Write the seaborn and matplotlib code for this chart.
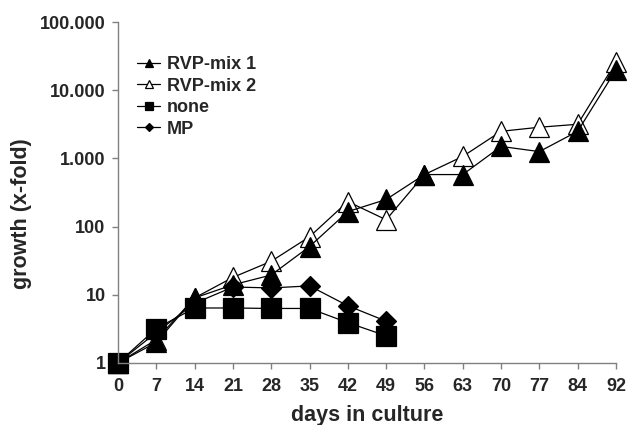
import matplotlib
matplotlib.use("Agg")
import matplotlib.pyplot as plt
import seaborn as sns

# days in culture (categorical axis, equally spaced)
days = ["0", "7", "14", "21", "28", "35", "42", "49", "56", "63", "70", "77", "84", "92"]
days_short = days[:8]

rvp_mix_1 = [1, 2.0, 9, 14, 19.5, 51, 166, 250, 580, 580, 1500, 1260, 2500, 20000]
rvp_mix_2 = [1, 2.2, 9, 18, 31, 71, 233, 126, 580, 1070, 2500, 2870, 3170, 26000]
none = [1, 3.2, 6.4, 6.4, 6.3, 6.3, 3.9, 2.5]
mp = [1, 2.8, 7.5, 13, 12.6, 13.5, 6.9, 4.1]

y_ticks = [1, 10, 100, 1000, 10000, 100000]
y_labels = ["1", "10", "100", "1.000", "10.000", "100.000"]


def main():
    sns.set_theme(style="white")
    plt.rcParams["font.family"] = ["Liberation Sans", "DejaVu Sans"]
    plt.rcParams["font.weight"] = "bold"

    fig = plt.figure(figsize=(6.29, 4.25), dpi=100)
    ax = fig.add_axes([0.1876, 0.146, 0.7917, 0.802])

    common = dict(color="black", linewidth=0.9, markeredgecolor="black",
                  markeredgewidth=0.9, sort=False, clip_on=False)

    # draw order follows the overlaps in the picture
    sns.lineplot(x=days, y=rvp_mix_2, marker="^", markersize=14,
                 markerfacecolor="white", label="RVP-mix 2", ax=ax, **common)
    sns.lineplot(x=days, y=rvp_mix_1, marker="^", markersize=14,
                 markerfacecolor="black", label="RVP-mix 1", ax=ax, **common)
    sns.lineplot(x=days_short, y=mp, marker="D", markersize=10,
                 markerfacecolor="black", label="MP", ax=ax, **common)
    sns.lineplot(x=days_short, y=none, marker="s", markersize=14,
                 markerfacecolor="black", label="none", ax=ax, **common)

    ax.set_yscale("log")
    ax.set_ylim(1, 100000)
    ax.set_xlim(0, len(days) - 1)
    ax.set_yticks(y_ticks)
    ax.set_yticklabels(y_labels)
    ax.minorticks_off()

    sns.despine(ax=ax)
    for side in ["left", "bottom"]:
        ax.spines[side].set_color("#808080")
        ax.spines[side].set_linewidth(1.0)
    ax.tick_params(axis="both", which="major", direction="out", length=4,
                   width=1.0, color="#808080", labelsize=13, pad=5)
    ax.tick_params(axis="y", left=True)
    ax.tick_params(axis="x", bottom=True, pad=7)
    for lab in ax.get_xticklabels() + ax.get_yticklabels():
        lab.set_fontweight("bold")

    ax.set_xlabel("days in culture", fontsize=15.5, fontweight="bold")
    ax.set_ylabel("growth (x-fold)", fontsize=15.5, fontweight="bold")
    ax.xaxis.set_label_coords(0.5, -0.122)
    ax.yaxis.set_label_coords(-0.173, 0.437)

    handles, labels = ax.get_legend_handles_labels()
    order = ["RVP-mix 1", "RVP-mix 2", "none", "MP"]
    hl = dict(zip(labels, handles))
    ax.legend([hl[k] for k in order], order, loc="upper left",
              bbox_to_anchor=(0.038, 0.90), frameon=False, borderpad=0,
              borderaxespad=0, markerscale=0.45, handlelength=1.3,
              handletextpad=0.35, labelspacing=0.25,
              prop={"size": 13, "weight": "bold"})

    fig.savefig("out.png", dpi=100)
    plt.close(fig)


if __name__ == "__main__":
    main()
